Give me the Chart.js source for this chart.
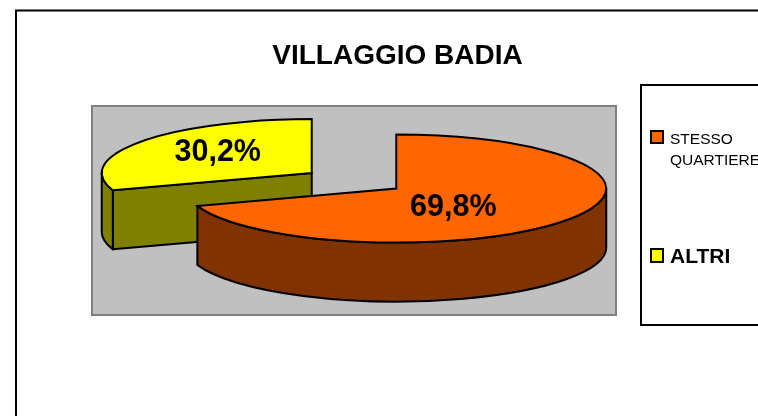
<!DOCTYPE html>
<html>
<head>
<meta charset="utf-8">
<style>html,body{margin:0;padding:0;background:#fff;overflow:hidden}canvas{display:block}</style>
<script src="https://cdn.jsdelivr.net/npm/chart.js@4"></script>
</head>
<body>
<canvas id="c" width="758" height="416"></canvas>
<script>
const chartTitle = "VILLAGGIO BADIA";
const categories = ["STESSO QUARTIERE", "ALTRI"];
const values = [69.8, 30.2];
const valueLabels = ["69,8%", "30,2%"];
const topColors = ["#FF6600", "#FFFF00"];
const sideColors = ["#803300", "#808000"];

const FONT = '"Liberation Sans", Arial, sans-serif';
const SQUASH = 0.257, DEPTH = 59, EXPLODE = 52, RADIUS = 210;
const labelShift = [[57, 19], [-94, -20]];

function apex(arc) {
  const mid = (arc.startAngle + arc.endAngle) / 2;
  return { x: arc.x + Math.cos(mid) * EXPLODE, y: arc.y + Math.sin(mid) * EXPLODE * SQUASH };
}

function rim(ctx, p, r, dy, a0, a1, ccw) {
  ctx.ellipse(p.x, p.y + dy, r, r * SQUASH, 0, a0, a1, ccw);
}

const norm = a => ((a % (2 * Math.PI)) + 2 * Math.PI) % (2 * Math.PI);

const pie3d = {
  id: "pie3d",
  beforeDraw(chart) {
    const ctx = chart.ctx;
    ctx.save();
    ctx.fillStyle = "#fff";
    ctx.fillRect(0, 0, 758, 416);
    ctx.strokeStyle = "#000";
    ctx.lineWidth = 2;
    ctx.strokeRect(16, 10.5, 800, 500);
    ctx.fillStyle = "#C0C0C0";
    ctx.strokeStyle = "#808080";
    ctx.fillRect(92, 106, 524, 209);
    ctx.strokeRect(92, 106, 524, 209);
    ctx.restore();
  },
  beforeDatasetDraw(chart) {
    const ctx = chart.ctx;
    const arcs = chart.getDatasetMeta(0).data;
    ctx.save();
    ctx.lineWidth = 2;
    ctx.lineJoin = "round";
    ctx.strokeStyle = "#000";
    // side walls, back slice first
    [1, 0].forEach(i => {
      const arc = arcs[i], p = apex(arc), r = arc.outerRadius;
      const s = arc.startAngle, e = arc.endAngle;
      ctx.fillStyle = sideColors[i];
      if (i === 1) {
        const ex = p.x + Math.cos(s) * r, ey = p.y + Math.sin(s) * r * SQUASH;
        ctx.beginPath();
        ctx.moveTo(p.x, p.y);
        ctx.lineTo(ex, ey);
        ctx.lineTo(ex, ey + DEPTH);
        ctx.lineTo(p.x, p.y + DEPTH);
        ctx.closePath();
        ctx.fill();
        ctx.stroke();
      }
      const a0 = i === 0 ? 0 : norm(s);
      const a1 = i === 0 ? norm(e) : Math.PI;
      ctx.beginPath();
      rim(ctx, p, r, 0, a0, a1, false);
      rim(ctx, p, r, DEPTH, a1, a0, true);
      ctx.closePath();
      ctx.fill();
      ctx.stroke();
    });
    // top faces: each element draws itself inside a flattened, shifted frame
    arcs.forEach(arc => {
      const p = apex(arc);
      ctx.save();
      ctx.translate(p.x, p.y);
      ctx.scale(1, SQUASH);
      ctx.translate(-arc.x, -arc.y);
      arc.draw(ctx);
      ctx.restore();
    });
    ctx.lineJoin = "miter";
    arcs.forEach(arc => {
      const p = apex(arc);
      ctx.beginPath();
      ctx.moveTo(p.x, p.y);
      rim(ctx, p, arc.outerRadius, 0, arc.startAngle, arc.endAngle, false);
      ctx.closePath();
      ctx.stroke();
    });
    ctx.fillStyle = "#000";
    ctx.font = "bold 30.5px " + FONT;
    ctx.textAlign = "center";
    ctx.textBaseline = "middle";
    arcs.forEach((arc, i) => {
      const p = apex(arc);
      ctx.fillText(valueLabels[i], p.x + labelShift[i][0], p.y + labelShift[i][1]);
    });
    ctx.restore();
    return false;
  },
  afterDraw(chart) {
    const ctx = chart.ctx;
    ctx.save();
    ctx.fillStyle = "#fff";
    ctx.strokeStyle = "#000";
    ctx.lineWidth = 2;
    ctx.fillRect(641, 85, 200, 240);
    ctx.strokeRect(641, 85, 200, 240);
    ctx.fillStyle = topColors[0];
    ctx.fillRect(651, 131, 12, 12);
    ctx.strokeRect(651, 131, 12, 12);
    ctx.fillStyle = topColors[1];
    ctx.fillRect(651, 249, 12, 13);
    ctx.strokeRect(651, 249, 12, 13);
    ctx.fillStyle = "#000";
    ctx.textAlign = "left";
    ctx.textBaseline = "alphabetic";
    ctx.font = "15.5px " + FONT;
    const parts = categories[0].split(" ");
    ctx.fillText(parts[0], 670, 144);
    ctx.fillText(parts[1], 670, 165);
    ctx.font = "bold 21px " + FONT;
    ctx.fillText(categories[1], 670, 263);
    ctx.restore();
  },
  afterLayout(chart) {
    const t = chart.titleBlock;
    t.left = 272; t.right = 523;
  }
};

new Chart(document.getElementById("c"), {
  type: "pie",
  data: {
    labels: categories,
    datasets: [{
      data: values,
      backgroundColor: topColors,
      borderWidth: 0,
      offset: 0,
      hoverOffset: 0,
      clip: false
    }]
  },
  options: {
    responsive: false,
    animation: false,
    radius: RADIUS,
    layout: { padding: { left: 0, right: 50, top: 0, bottom: 127 } },
    events: [],
    plugins: {
      legend: { display: false },
      tooltip: { enabled: false },
      title: {
        display: true,
        text: chartTitle,
        color: "#000",
        font: { family: FONT, size: 28, weight: "bold" },
        padding: { top: 39, bottom: 0 }
      }
    }
  },
  plugins: [pie3d]
});
</script>
</body>
</html>
